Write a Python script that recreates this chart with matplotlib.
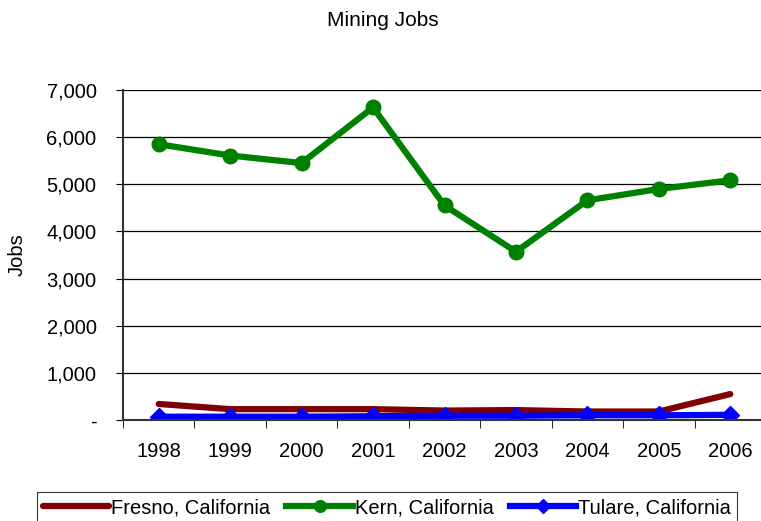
import matplotlib.pyplot as plt
from matplotlib.ticker import FuncFormatter

plt.rcParams['font.family'] = ['Liberation Sans', 'DejaVu Sans']

years = ['1998', '1999', '2000', '2001', '2002', '2003', '2004', '2005', '2006']
fresno = [340, 230, 230, 230, 200, 210, 180, 180, 550]
kern = [5850, 5610, 5450, 6630, 4550, 3570, 4660, 4900, 5085]
tulare = [70, 70, 70, 80, 90, 90, 100, 100, 110]

fig = plt.figure(figsize=(7.61, 5.21), dpi=100)
ax = fig.add_axes([123 / 761, 1 - 420 / 521, 643 / 761, 330 / 521])

x = range(len(years))
ax.plot(x, fresno, color='#800000', lw=4.5, solid_capstyle='round', label='Fresno, California')
ax.plot(x, kern, color='#008000', lw=4.5, marker='o', ms=10.5, label='Kern, California')
ax.plot(x, tulare, color='#0000ff', lw=4.5, marker='D', ms=9, label='Tulare, California')

ax.set_xlim(-0.5, len(years) - 0.5)
ax.set_ylim(0, 7000)
ax.set_yticks(range(0, 7001, 1000))
ax.yaxis.set_major_formatter(FuncFormatter(lambda v, p: '-' if v == 0 else f'{int(v):,}'))
ax.set_xticks(list(x))
ax.set_xticklabels(years)
ax.set_xticks([i + 0.5 for i in range(-1, len(years))], minor=True)
ax.tick_params(axis='x', which='major', length=0, pad=16, labelsize=14.5)
ax.tick_params(axis='x', which='minor', length=6, direction='out', color='black')
ax.tick_params(axis='y', length=5, direction='out', labelsize=14.5, pad=14)
ax.grid(axis='y', color='black', lw=0.9)
ax.set_axisbelow(True)
for s in ['top', 'right']:
    ax.spines[s].set_visible(False)
ax.spines['left'].set_color('#333333')
ax.spines['bottom'].set_color('#333333')
ax.spines['left'].set_linewidth(1.5)
ax.spines['bottom'].set_linewidth(1.5)
ax.set_ylabel('Jobs', fontsize=14.5)
ax.yaxis.set_label_coords(-96 / 643, 0.5)

fig.text(383 / 761, 1 - 20 / 521, 'Mining Jobs', ha='center', va='center', fontsize=15)

leg = fig.legend(loc='upper center', bbox_to_anchor=(387 / 761, 1 - 492 / 521), ncol=3,
                 fontsize=14.5, frameon=True, fancybox=False, edgecolor='black',
                 handlelength=3.3, handletextpad=0.1, columnspacing=0.8, borderpad=0.3,
                 borderaxespad=0, markerscale=0.8)
leg.get_frame().set_linewidth(0.8)

fig.savefig('out.png', dpi=100)
